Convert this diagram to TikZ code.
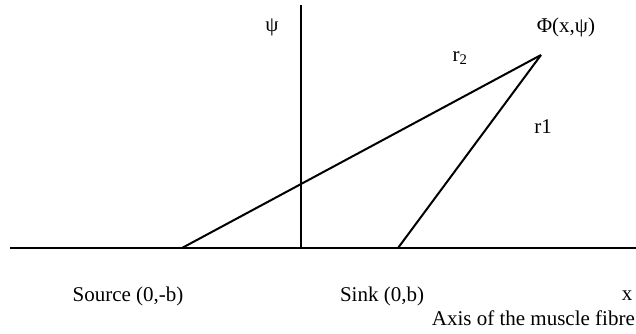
\documentclass[tikz,border=0pt]{standalone}
\usepackage{fontspec}
\setmainfont{Liberation Serif}
\usepackage{tikz}
\usetikzlibrary{positioning}

\begin{document}
\begin{tikzpicture}[
    x=1pt, y=1pt,
    lbl/.style={inner sep=0pt, font=\fontsize{21}{24}\selectfont},
    ln/.style={black, line width=2pt}
  ]
  \useasboundingbox (0,0) rectangle (636,333);

  \coordinate (axisL)  at (10,85);
  \coordinate (axisR)  at (636,85);
  \coordinate (top)    at (300.5,328);
  \coordinate (foot)   at (300.5,85);
  \coordinate (source) at (182,85);
  \coordinate (sink)   at (398,85);
  \coordinate (phi)    at (541,278);

  \node[lbl] (psi)    at (272,306) {ψ};
  \node[lbl] (phiLbl) at (566,306) {Φ(x,ψ)};
  \node[lbl] (rtwo)   at (460,275) {r\textsubscript{2}};
  \node[lbl] (rone)   at (543,206) {r1};
  \node[lbl] (srcLbl) at (128,37)  {Source (0,-b)};
  \node[lbl] (snkLbl) at (382,37)  {Sink (0,b)};
  \node[lbl] (xLbl)   at (627,37)  {x};
  \node[lbl, anchor=east] (axisLbl) at (635,15) {Axis of the muscle fibre};

  \draw[ln, line width=2.4pt] (axisL) -- (axisR);
  \draw[ln] (top)    -- (foot);
  \draw[ln] (source) -- (phi);
  \draw[ln] (sink)   -- (phi);
\end{tikzpicture}
\end{document}
